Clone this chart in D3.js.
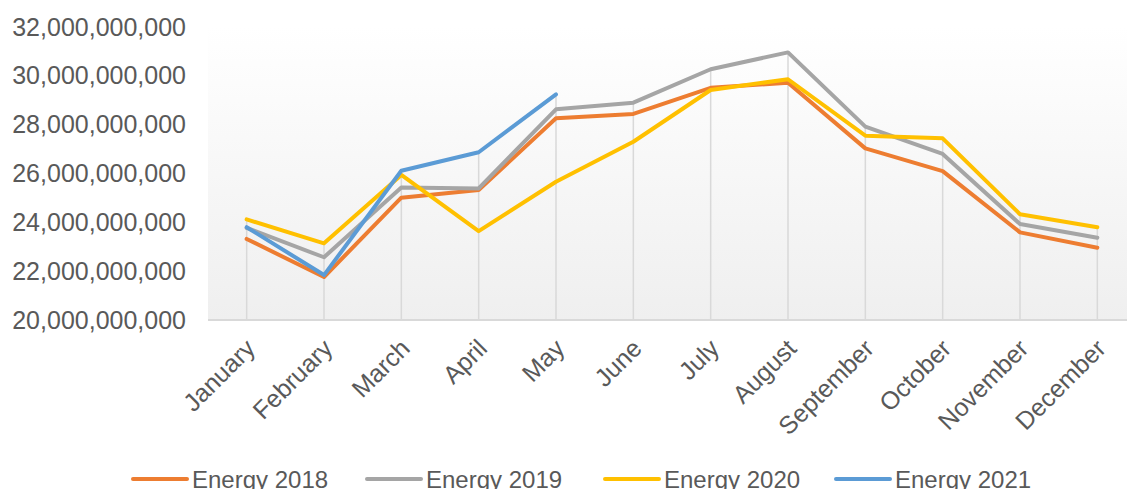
<!DOCTYPE html>
<html>
<head>
<meta charset="utf-8">
<script src="https://cdn.jsdelivr.net/npm/d3@7"></script>
<style>
  body { margin: 0; background: #fff; }
  text { font-family: "Liberation Sans", Arial, sans-serif; fill: #595959; }
</style>
</head>
<body>
<div id="chart"></div>
<script>
// data, values in billions
var months = ['January','February','March','April','May','June','July','August','September','October','November','December'];
var energy2018 = [23.32, 21.76, 25.01, 25.32, 28.26, 28.44, 29.51, 29.72, 27.03, 26.10, 23.59, 22.96];
var energy2019 = [23.77, 22.57, 25.43, 25.39, 28.63, 28.90, 30.27, 30.96, 27.92, 26.80, 23.93, 23.37];
var energy2020 = [24.12, 23.14, 25.94, 23.64, 25.66, 27.30, 29.42, 29.86, 27.55, 27.44, 24.33, 23.80];
var energy2021 = [23.80, 21.84, 26.11, 26.87, 29.24];
var yTicks = [20, 22, 24, 26, 28, 30, 32];

var series = [
	{name: 'Energy 2018', values: energy2018, color: '#ED7D31'},
	{name: 'Energy 2019', values: energy2019, color: '#A5A5A5'},
	{name: 'Energy 2020', values: energy2020, color: '#FFC000'},
	{name: 'Energy 2021', values: energy2021, color: '#5B9BD5'}
];

var W = 1127, H = 489;
var plotL = 208, plotR = 1136, plotT = 27, plotB = 320;

var svg = d3.select('#chart').append('svg')
	.attr('width', W)
	.attr('height', H);

var x = d3.scaleBand().domain(months).range([plotL, plotR]);
var y = d3.scaleLinear().domain([20, 32]).range([plotB, plotT]);

// plot area background
var grad = svg.append('defs').append('linearGradient')
	.attr('id', 'bg').attr('x1', 0).attr('y1', 0).attr('x2', 0).attr('y2', 1);
grad.append('stop').attr('offset', '0%').attr('stop-color', '#ffffff');
grad.append('stop').attr('offset', '100%').attr('stop-color', '#efefef');

svg.append('rect')
	.attr('x', plotL).attr('y', plotT)
	.attr('width', plotR - plotL).attr('height', plotB - plotT)
	.attr('fill', 'url(#bg)');

// drop lines from the highest point of each month
svg.selectAll('.drop').data(months)
	.enter().append('line').classed('drop', true)
	.attr('x1', function(d){ return x(d) + x.bandwidth()/2; })
	.attr('x2', function(d){ return x(d) + x.bandwidth()/2; })
	.attr('y1', function(d, i){
		return y(d3.max(series, function(s){ return s.values[i] == undefined ? -Infinity : s.values[i]; }));
	})
	.attr('y2', plotB)
	.style('stroke', '#d9d9d9')
	.style('stroke-width', 1.5);

// y axis labels
var fmt = function(v){ return d3.format(',')(v * 1e9); };
svg.append('g')
	.attr('transform', 'translate(186,0)')
	.call(d3.axisLeft(y).tickValues(yTicks).tickFormat(fmt).tickSize(0).tickPadding(0))
	.call(function(g){ g.select('.domain').remove(); })
	.selectAll('text')
	.style('font-size', '25px')
	.style('fill', '#595959')
	.style('font-family', '"Liberation Sans", Arial, sans-serif');

// x axis
var xg = svg.append('g')
	.attr('transform', 'translate(0,' + plotB + ')')
	.call(d3.axisBottom(x).tickSize(0).tickPadding(0));
xg.select('.domain').remove();
xg.append('line')
	.attr('x1', plotL).attr('x2', W)
	.attr('y1', 0).attr('y2', 0)
	.style('stroke', '#d9d9d9')
	.style('stroke-width', 2);
xg.selectAll('.tick text')
	.attr('text-anchor', 'end')
	.attr('dy', null)
	.attr('y', 0)
	.attr('transform', 'translate(10,30) rotate(-45)')
	.style('font-size', '25px')
	.style('fill', '#595959')
	.style('font-family', '"Liberation Sans", Arial, sans-serif');

// lines
var line = d3.line()
	.x(function(d, i){ return x(months[i]) + x.bandwidth()/2; })
	.y(function(d){ return y(d); });

svg.selectAll('.series').data(series)
	.enter().append('path').classed('series', true)
	.attr('d', function(s){ return line(s.values); })
	.style('fill', 'none')
	.style('stroke', function(s){ return s.color; })
	.style('stroke-width', 4)
	.style('stroke-linejoin', 'round')
	.style('stroke-linecap', 'round');

// legend
var legendX = [133, 367, 605, 836];
var leg = svg.selectAll('.leg').data(series)
	.enter().append('g').classed('leg', true)
	.attr('transform', function(d, i){ return 'translate(' + legendX[i] + ',479)'; });
leg.append('line')
	.attr('x1', 0).attr('x2', 54)
	.style('stroke', function(d){ return d.color; })
	.style('stroke-width', 4)
	.style('stroke-linecap', 'round');
leg.append('text')
	.attr('x', 59).attr('y', 9)
	.style('font-size', '24px')
	.text(function(d){ return d.name; });
</script>
</body>
</html>
